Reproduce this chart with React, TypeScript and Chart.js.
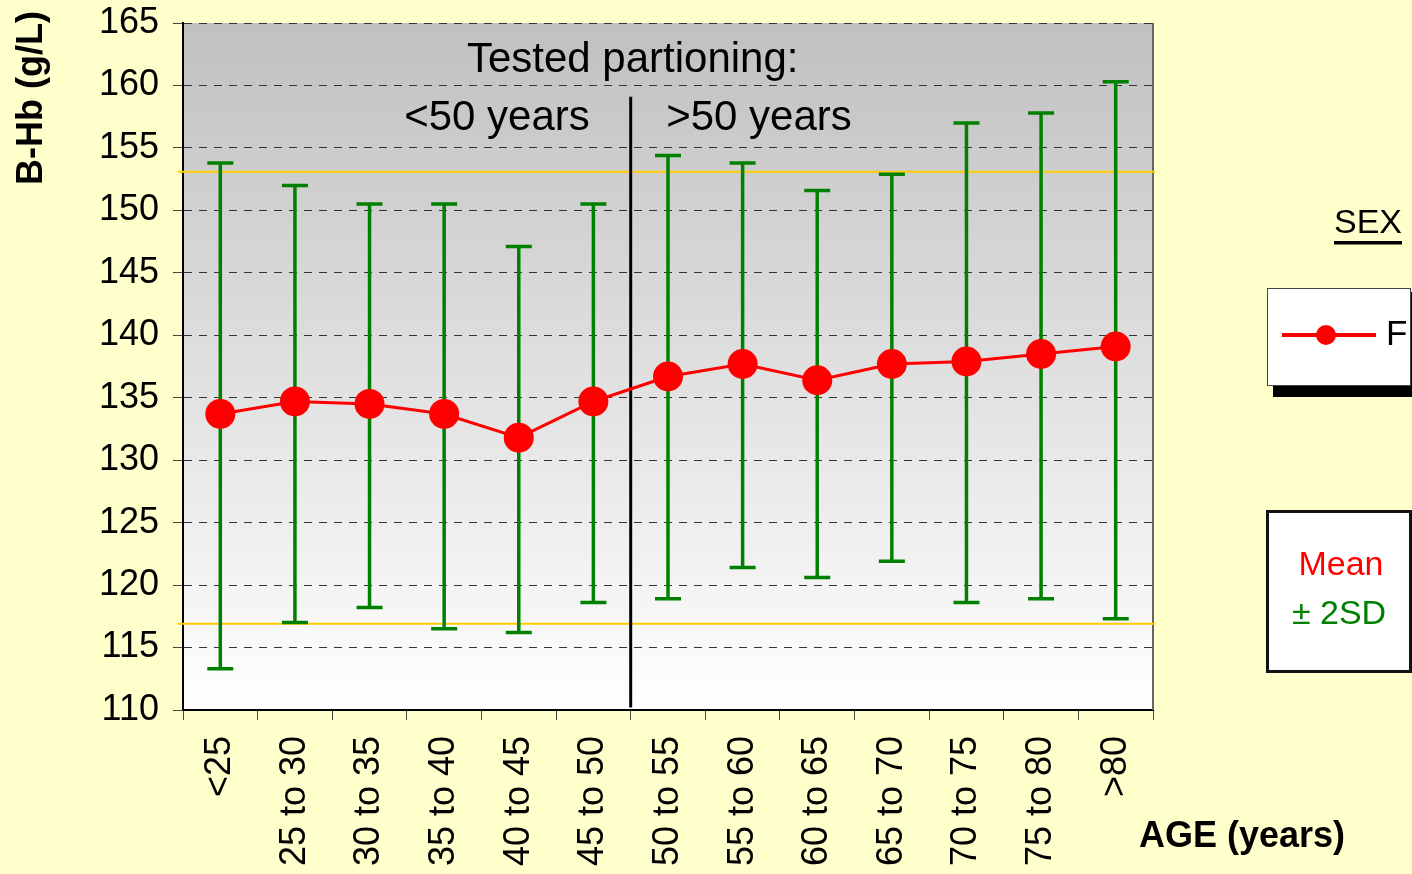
import React, { useEffect, useRef } from 'react';
import { Chart, registerables } from 'chart.js';

Chart.register(...registerables);

const FONT = "'Liberation Sans', Arial, sans-serif";

const categories = ['<25', '25 to 30', '30 to 35', '35 to 40', '40 to 45', '45 to 50', '50 to 55', '55 to 60', '60 to 65', '65 to 70', '70 to 75', '75 to 80', '>80'];
const meanValues = [133.7, 134.7, 134.5, 133.7, 131.8, 134.7, 136.7, 137.7, 136.4, 137.7, 137.9, 138.5, 139.1];
const upperValues = [153.8, 152.0, 150.5, 150.5, 147.1, 150.5, 154.4, 153.8, 151.6, 152.9, 157.0, 157.8, 160.3];
const lowerValues = [113.3, 117.0, 118.2, 116.5, 116.2, 118.6, 118.9, 121.4, 120.6, 121.9, 118.6, 118.9, 117.3];
const referenceLimits = [153.1, 116.9];
const yMin = 110;
const yMax = 165;
const yStep = 5;
const partitionAfterIndex = 5; // separator between '45 to 50' and '50 to 55'
const separatorRange = [159.1, 110.2];

const decorPlugin = {
  id: 'decor',
  beforeDraw(chart: any) {
    const { ctx, chartArea: a } = chart;
    ctx.save();
    ctx.fillStyle = '#FFFFCC';
    ctx.fillRect(0, 0, chart.width, chart.height);
    const g = ctx.createLinearGradient(0, a.top, 0, a.bottom);
    g.addColorStop(0, '#C0C0C0');
    g.addColorStop(1, '#FFFFFF');
    ctx.fillStyle = g;
    ctx.fillRect(a.left, a.top, a.right - a.left, a.bottom - a.top);
    ctx.restore();
  },
  beforeDatasetsDraw(chart: any) {
    const { ctx, chartArea: a } = chart;
    const xs = chart.scales.x;
    const ys = chart.scales.y;
    ctx.save();
    // right border of plot
    ctx.strokeStyle = '#666666';
    ctx.lineWidth = 2;
    ctx.beginPath();
    ctx.moveTo(a.right, a.top);
    ctx.lineTo(a.right, a.bottom);
    ctx.stroke();

    // reference limits
    ctx.strokeStyle = '#FFCC00';
    ctx.lineWidth = 2;
    referenceLimits.forEach((v) => {
      const y = ys.getPixelForValue(v);
      ctx.beginPath();
      ctx.moveTo(a.left - 5, y);
      ctx.lineTo(a.right + 2, y);
      ctx.stroke();
    });

    // separator
    const sx = (xs.getPixelForValue(partitionAfterIndex) + xs.getPixelForValue(partitionAfterIndex + 1)) / 2;
    ctx.strokeStyle = '#000000';
    ctx.lineWidth = 3;
    ctx.beginPath();
    ctx.moveTo(sx, ys.getPixelForValue(separatorRange[0]));
    ctx.lineTo(sx, ys.getPixelForValue(separatorRange[1]));
    ctx.stroke();

    // annotation text
    ctx.fillStyle = '#000000';
    ctx.font = `42px ${FONT}`;
    ctx.textAlign = 'center';
    ctx.textBaseline = 'alphabetic';
    ctx.fillText('Tested partioning:', sx + 2, 72);
    ctx.fillText('<50 years', 497, 130);
    ctx.fillText('>50 years', 759, 130);

    // error bars
    ctx.strokeStyle = '#008000';
    ctx.lineWidth = 3.5;
    const cap = 13;
    categories.forEach((_, i) => {
      const x = xs.getPixelForValue(i);
      const yt = ys.getPixelForValue(upperValues[i]);
      const yb = ys.getPixelForValue(lowerValues[i]);
      ctx.beginPath();
      ctx.moveTo(x, yt);
      ctx.lineTo(x, yb);
      ctx.moveTo(x - cap, yt);
      ctx.lineTo(x + cap, yt);
      ctx.moveTo(x - cap, yb);
      ctx.lineTo(x + cap, yb);
      ctx.stroke();
    });
    ctx.restore();
  },
  afterDraw(chart: any) {
    const { ctx } = chart;
    ctx.save();
    // y axis title
    ctx.fillStyle = '#000000';
    ctx.font = `bold 36px ${FONT}`;
    ctx.textAlign = 'center';
    ctx.textBaseline = 'alphabetic';
    ctx.save();
    ctx.translate(42, 98);
    ctx.rotate(-Math.PI / 2);
    ctx.fillText('B-Hb (g/L)', 0, 0);
    ctx.restore();

    // x axis title
    ctx.font = `bold 36px ${FONT}`;
    ctx.fillText('AGE (years)', 1242, 847);

    // SEX header
    ctx.font = `34px ${FONT}`;
    ctx.textAlign = 'right';
    ctx.fillText('SEX', 1402, 233);
    ctx.fillRect(1334, 241, 68, 3.5);

    // legend box 1 with shadow
    ctx.fillStyle = '#000000';
    ctx.fillRect(1273, 292, 139, 105);
    ctx.fillStyle = '#FFFFFF';
    ctx.fillRect(1267, 288, 144, 98);
    ctx.strokeStyle = '#444444';
    ctx.lineWidth = 1;
    ctx.strokeRect(1267.5, 288.5, 143, 97);
    ctx.strokeStyle = '#FF0000';
    ctx.lineWidth = 4;
    ctx.beginPath();
    ctx.moveTo(1282, 335);
    ctx.lineTo(1376, 335);
    ctx.stroke();
    ctx.fillStyle = '#FF0000';
    ctx.beginPath();
    ctx.arc(1326, 335, 10, 0, Math.PI * 2);
    ctx.fill();
    ctx.fillStyle = '#000000';
    ctx.font = `35px ${FONT}`;
    ctx.textAlign = 'left';
    ctx.fillText('F', 1386, 345);

    // legend box 2
    ctx.fillStyle = '#FFFFFF';
    ctx.fillRect(1266, 510, 145, 163);
    ctx.strokeStyle = '#111111';
    ctx.lineWidth = 3;
    ctx.strokeRect(1267.5, 511.5, 143, 160);
    ctx.textAlign = 'center';
    ctx.font = `34px ${FONT}`;
    ctx.fillStyle = '#FF0000';
    ctx.fillText('Mean', 1341, 575);
    ctx.fillStyle = '#008000';
    ctx.fillText('\u00B1 2SD', 1339, 624);
    ctx.restore();
  },
};

export default function App() {
  const ref = useRef<HTMLCanvasElement | null>(null);
  useEffect(() => {
    document.body.style.margin = '0';
    const canvas = ref.current;
    if (!canvas) return;
    const chart = new Chart(canvas, {
      type: 'line',
      data: {
        labels: categories,
        datasets: [
          {
            label: 'F',
            data: meanValues,
            borderColor: '#FF0000',
            backgroundColor: '#FF0000',
            borderWidth: 3,
            pointRadius: 15,
            pointHoverRadius: 15,
            pointBackgroundColor: '#FF0000',
            pointBorderColor: '#FF0000',
            pointBorderWidth: 0,
            tension: 0,
            clip: false as any,
          },
        ],
      },
      options: {
        responsive: false,
        animation: false,
        devicePixelRatio: 1,
        layout: { padding: { left: 0, top: 23, right: 259, bottom: 0 } },
        plugins: {
          legend: { display: false },
          tooltip: { enabled: false },
          title: { display: false },
        },
        scales: {
          x: {
            type: 'category',
            offset: true,
            grid: {
              offset: true,
              drawOnChartArea: false,
              drawTicks: true,
              tickLength: 10,
              color: '#444444',
              lineWidth: 1,
            },
            border: { display: true, color: '#000000', width: 2 },
            ticks: {
              autoSkip: false,
              minRotation: 90,
              maxRotation: 90,
              padding: 16,
              color: '#000000',
              font: { family: FONT, size: 36 },
            },
            afterFit(s: any) {
              s.height = 164;
              s.paddingLeft = 0;
              s.paddingRight = 0;
            },
          },
          y: {
            min: yMin,
            max: yMax,
            ticks: {
              stepSize: yStep,
              padding: 14,
              color: '#000000',
              font: { family: FONT, size: 36 },
            },
            grid: {
              color: '#333333',
              lineWidth: 1,
              tickLength: 10,
              tickColor: '#444444',
            },
            border: { display: true, color: '#000000', width: 2, dash: [8, 7] },
            afterFit(s: any) {
              s.width = 183;
              s.paddingTop = 0;
              s.paddingBottom = 0;
            },
          },
        },
      },
      plugins: [decorPlugin],
    });
    return () => chart.destroy();
  }, []);
  return (
    <div style={{ width: 1412, height: 874, background: '#FFFFCC' }}>
      <canvas ref={ref} width={1412} height={874} style={{ display: 'block' }} />
    </div>
  );
}
